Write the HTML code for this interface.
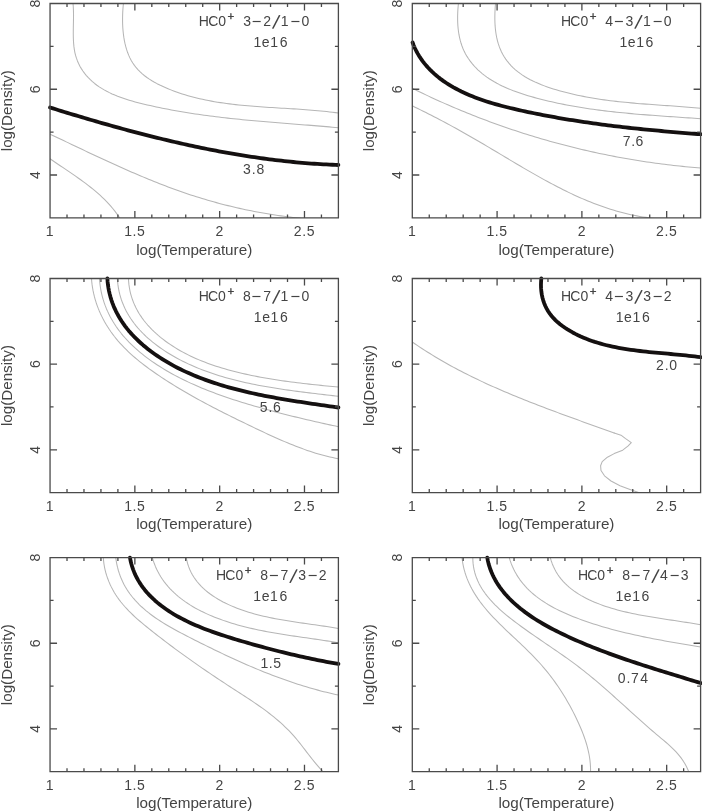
<!DOCTYPE html>
<html><head><meta charset="utf-8"><title>HCO+ line ratio contours</title>
<style>html,body{margin:0;padding:0;background:#fff;overflow:hidden}svg{display:block}</style></head>
<body><svg width="702" height="811" viewBox="0 0 702 811">
<rect width="702" height="811" fill="#fff"/>
<g font-family="Liberation Sans, sans-serif" fill="#444">
<clipPath id="c00"><rect x="50.05" y="3.5" width="288.35" height="214.4"/></clipPath>
<g clip-path="url(#c00)" fill="none" stroke-linejoin="round" stroke-linecap="round">
<path d="M73.01,3.47 L73.26,6.44 L73.41,9.45 L73.5,12.5 L73.52,15.58 L73.5,18.69 L73.45,21.82 L73.38,24.96 L73.32,28.1 L73.29,31.24 L73.28,34.37 L73.33,37.48 L73.44,40.57 L73.64,43.62 L73.94,46.64 L74.35,49.62 L74.89,52.54 L75.58,55.4 L76.43,58.19 L77.44,60.92 L78.6,63.57 L79.9,66.14 L81.34,68.63 L82.9,71.04 L84.59,73.35 L86.4,75.57 L88.31,77.7 L90.32,79.72 L92.42,81.64 L94.61,83.47 L96.89,85.21 L99.25,86.86 L101.68,88.42 L104.18,89.9 L106.75,91.31 L109.39,92.64 L112.08,93.9 L114.82,95.09 L117.61,96.22 L120.45,97.29 L123.33,98.31 L126.24,99.28 L129.18,100.2 L132.15,101.07 L135.13,101.9 L138.14,102.7 L141.16,103.47 L144.18,104.2 L147.21,104.91 L150.24,105.6 L153.27,106.27 L156.28,106.92 L159.3,107.55 L162.31,108.17 L165.31,108.77 L168.32,109.35 L171.31,109.91 L174.31,110.47 L177.3,111 L180.28,111.52 L183.27,112.02 L186.25,112.52 L189.22,112.99 L192.2,113.46 L195.17,113.91 L198.14,114.34 L201.11,114.77 L204.08,115.18 L207.04,115.58 L210,115.97 L212.96,116.35 L215.92,116.72 L218.88,117.08 L221.84,117.43 L224.8,117.77 L227.76,118.11 L230.71,118.43 L233.67,118.74 L236.62,119.05 L239.58,119.35 L242.54,119.65 L245.49,119.93 L248.45,120.21 L251.41,120.49 L254.37,120.76 L257.33,121.02 L260.3,121.28 L263.26,121.54 L266.23,121.79 L269.19,122.04 L272.16,122.28 L275.14,122.53 L278.11,122.77 L281.09,123.01 L284.07,123.25 L287.05,123.48 L290.04,123.72 L293.03,123.95 L296.02,124.19 L299.02,124.42 L302.02,124.66 L305.03,124.9 L308.04,125.14 L311.05,125.38 L314.07,125.62 L317.1,125.87 L320.12,126.12 L323.16,126.38 L326.2,126.63 L329.24,126.89 L332.29,127.16 L335.35,127.43 L338.41,127.71" stroke="#b6b6b6" stroke-width="1.05"/>
<path d="M123.43,3.49 L123.15,6.3 L122.92,9.19 L122.74,12.15 L122.62,15.18 L122.56,18.25 L122.56,21.37 L122.65,24.52 L122.8,27.68 L123.05,30.85 L123.38,34.02 L123.81,37.17 L124.33,40.29 L124.97,43.38 L125.71,46.42 L126.56,49.4 L127.54,52.31 L128.65,55.14 L129.88,57.88 L131.25,60.51 L132.77,63.03 L134.43,65.42 L136.22,67.7 L138.15,69.86 L140.19,71.91 L142.34,73.86 L144.6,75.72 L146.95,77.47 L149.38,79.14 L151.89,80.72 L154.46,82.23 L157.09,83.66 L159.78,85.02 L162.5,86.31 L165.25,87.55 L168.03,88.74 L170.83,89.87 L173.64,90.95 L176.47,91.99 L179.31,92.97 L182.17,93.92 L185.05,94.81 L187.93,95.67 L190.84,96.48 L193.75,97.26 L196.68,97.99 L199.62,98.69 L202.57,99.35 L205.53,99.98 L208.5,100.57 L211.49,101.13 L214.48,101.66 L217.48,102.16 L220.48,102.63 L223.5,103.08 L226.52,103.5 L229.55,103.89 L232.59,104.26 L235.63,104.61 L238.67,104.94 L241.72,105.25 L244.78,105.54 L247.83,105.82 L250.89,106.08 L253.96,106.33 L257.02,106.56 L260.09,106.79 L263.15,107 L266.22,107.21 L269.28,107.41 L272.35,107.6 L275.41,107.79 L278.47,107.97 L281.53,108.15 L284.58,108.34 L287.63,108.52 L290.68,108.7 L293.72,108.89 L296.75,109.09 L299.78,109.28 L302.81,109.49 L305.82,109.71 L308.83,109.93 L311.83,110.17 L314.82,110.42 L317.81,110.68 L320.78,110.96 L323.74,111.25 L326.7,111.56 L329.64,111.9 L332.57,112.25 L335.48,112.62 L338.38,113.02" stroke="#b6b6b6" stroke-width="1.05"/>
<path d="M50.07,134.17 L52.76,135.44 L55.46,136.72 L58.15,138 L60.85,139.28 L63.55,140.57 L66.25,141.85 L68.95,143.14 L71.66,144.43 L74.37,145.72 L77.08,147.01 L79.79,148.29 L82.5,149.58 L85.22,150.87 L87.94,152.15 L90.66,153.43 L93.39,154.71 L96.11,155.99 L98.84,157.26 L101.58,158.53 L104.31,159.8 L107.05,161.06 L109.79,162.32 L112.53,163.57 L115.28,164.82 L118.03,166.06 L120.78,167.29 L123.54,168.52 L126.3,169.74 L129.06,170.95 L131.82,172.15 L134.59,173.35 L137.36,174.53 L140.13,175.71 L142.91,176.88 L145.69,178.04 L148.48,179.18 L151.26,180.32 L154.05,181.45 L156.85,182.56 L159.65,183.66 L162.45,184.75 L165.25,185.83 L168.06,186.89 L170.88,187.94 L173.69,188.98 L176.51,190 L179.34,191.01 L182.17,192 L185,192.98 L187.83,193.94 L190.67,194.88 L193.52,195.81 L196.37,196.72 L199.22,197.61 L202.08,198.49 L204.94,199.35 L207.8,200.19 L210.67,201.02 L213.55,201.83 L216.43,202.62 L219.31,203.4 L222.2,204.16 L225.09,204.9 L227.98,205.63 L230.89,206.34 L233.79,207.03 L236.7,207.71 L239.62,208.37 L242.54,209.02 L245.46,209.64 L248.39,210.25 L251.33,210.85 L254.27,211.43 L257.21,211.99 L260.16,212.53 L263.12,213.06 L266.08,213.57 L269.05,214.07 L272.02,214.55 L274.99,215.01 L277.98,215.46 L280.96,215.89 L283.96,216.3 L286.95,216.7 L289.96,217.08 L292.97,217.44 L295.98,217.79 L299,218.12 L302.03,218.43" stroke="#b6b6b6" stroke-width="1.05"/>
<path d="M50.05,158.8 L52.56,160.53 L55.09,162.26 L57.63,163.99 L60.19,165.71 L62.75,167.44 L65.32,169.16 L67.89,170.9 L70.46,172.64 L73.03,174.4 L75.59,176.17 L78.13,177.95 L80.67,179.76 L83.18,181.59 L85.67,183.44 L88.14,185.32 L90.58,187.23 L92.99,189.17 L95.37,191.14 L97.71,193.16 L100.01,195.21 L102.26,197.3 L104.47,199.44 L106.62,201.63 L108.72,203.87 L110.77,206.16 L112.75,208.5 L114.67,210.91 L116.52,213.37 L118.31,215.9 L120.01,218.49" stroke="#b6b6b6" stroke-width="1.05"/>
</g>
<path d="M50.05,107.5 L52.91,108.42 L55.78,109.3 L58.65,110.19 L61.53,111.07 L64.4,111.95 L67.28,112.83 L70.15,113.7 L73.03,114.57 L75.91,115.43 L78.79,116.29 L81.68,117.15 L84.56,118.01 L87.45,118.86 L90.34,119.71 L93.23,120.55 L96.12,121.39 L99.01,122.22 L101.9,123.05 L104.8,123.87 L107.7,124.69 L110.6,125.51 L113.5,126.32 L116.4,127.13 L119.3,127.93 L122.21,128.72 L125.11,129.51 L128.02,130.3 L130.93,131.07 L133.84,131.85 L136.75,132.61 L139.67,133.37 L142.58,134.13 L145.5,134.88 L148.42,135.62 L151.34,136.36 L154.26,137.09 L157.19,137.81 L160.11,138.53 L163.04,139.24 L165.96,139.94 L168.89,140.64 L171.82,141.32 L174.76,142.01 L177.69,142.68 L180.63,143.35 L183.56,144 L186.5,144.65 L189.44,145.3 L192.38,145.93 L195.33,146.56 L198.27,147.18 L201.22,147.79 L204.17,148.39 L207.12,148.99 L210.07,149.57 L213.02,150.15 L215.97,150.71 L218.93,151.27 L221.88,151.82 L224.84,152.36 L227.8,152.89 L230.77,153.42 L233.73,153.93 L236.69,154.43 L239.66,154.92 L242.63,155.41 L245.6,155.88 L248.57,156.34 L251.54,156.79 L254.51,157.24 L257.49,157.67 L260.47,158.09 L263.44,158.5 L266.42,158.9 L269.41,159.29 L272.39,159.67 L275.37,160.03 L278.36,160.39 L281.35,160.73 L284.34,161.07 L287.33,161.39 L290.32,161.7 L293.31,161.99 L296.31,162.28 L299.31,162.55 L302.3,162.82 L305.3,163.07 L308.31,163.3 L311.31,163.53 L314.31,163.74 L317.32,163.94 L320.33,164.13 L323.34,164.3 L326.35,164.46 L329.36,164.61 L332.37,164.75 L335.39,164.87 L338.4,165" fill="none" stroke="#141010" stroke-width="3.8" stroke-linejoin="round" stroke-linecap="round"/>
<path d="M50.05,3.5 H338.4 V217.9 H50.05 Z M67.01,217.9 v-3.5 M67.01,3.5 v3.5 M83.97,217.9 v-3.5 M83.97,3.5 v3.5 M100.94,217.9 v-3.5 M100.94,3.5 v3.5 M117.9,217.9 v-3.5 M117.9,3.5 v3.5 M134.86,217.9 v-7 M134.86,3.5 v7 M151.82,217.9 v-3.5 M151.82,3.5 v3.5 M168.78,217.9 v-3.5 M168.78,3.5 v3.5 M185.74,217.9 v-3.5 M185.74,3.5 v3.5 M202.71,217.9 v-3.5 M202.71,3.5 v3.5 M219.67,217.9 v-7 M219.67,3.5 v7 M236.63,217.9 v-3.5 M236.63,3.5 v3.5 M253.59,217.9 v-3.5 M253.59,3.5 v3.5 M270.55,217.9 v-3.5 M270.55,3.5 v3.5 M287.51,217.9 v-3.5 M287.51,3.5 v3.5 M304.48,217.9 v-7 M304.48,3.5 v7 M321.44,217.9 v-3.5 M321.44,3.5 v3.5 M50.05,175.02 h7 M338.4,175.02 h-7 M50.05,132.14 h3.5 M338.4,132.14 h-3.5 M50.05,89.26 h7 M338.4,89.26 h-7 M50.05,46.38 h3.5 M338.4,46.38 h-3.5" fill="none" stroke="#4a4a4a" stroke-width="1.3"/>
<text x="50.05" y="235.9" font-size="14" text-anchor="middle" letter-spacing="0.6">1</text>
<text x="134.86" y="235.9" font-size="14" text-anchor="middle" letter-spacing="0.6">1.5</text>
<text x="219.67" y="235.9" font-size="14" text-anchor="middle" letter-spacing="0.6">2</text>
<text x="304.48" y="235.9" font-size="14" text-anchor="middle" letter-spacing="0.6">2.5</text>
<text x="194.22" y="254.6" font-size="14.2" text-anchor="middle" textLength="116" lengthAdjust="spacingAndGlyphs">log(Temperature)</text>
<text transform="translate(39.85,175.02) rotate(-90)" font-size="14" text-anchor="middle">4</text>
<text transform="translate(39.85,89.26) rotate(-90)" font-size="14" text-anchor="middle">6</text>
<text transform="translate(39.85,3.5) rotate(-90)" font-size="14" text-anchor="middle">8</text>
<text transform="translate(11.65,110.7) rotate(-90)" font-size="14.2" text-anchor="middle" textLength="81" lengthAdjust="spacingAndGlyphs">log(Density)</text>
<text x="198.84 208.16 218.26" y="25.6" font-size="14">HC0<tspan x="227.54" y="19.85" font-size="11.5" stroke="#444" stroke-width="0.35">+</tspan><tspan x="239.25 243.15" y="25.6"> 3</tspan><tspan x="251.73" y="27" font-size="16.5">−</tspan><tspan x="263.36" y="25.6">2</tspan><tspan x="272.1" y="28.35" font-size="20" rotate="12">/</tspan><tspan x="280.77" y="25.6">1</tspan><tspan x="290.58" y="27" font-size="16.5">−</tspan><tspan x="301.56" y="25.6">0</tspan></text>
<text x="253.47 261.87 270.32 279.66" y="47" font-size="14" >1e16</text>
<text x="242.9 251.66 256.56" y="173.9" font-size="14" >3.8</text>
<clipPath id="c10"><rect x="412.3" y="3.5" width="288.3" height="214.4"/></clipPath>
<g clip-path="url(#c10)" fill="none" stroke-linejoin="round" stroke-linecap="round">
<path d="M458.42,3.46 L458.11,6.72 L457.87,9.96 L457.71,13.17 L457.62,16.35 L457.62,19.51 L457.7,22.63 L457.88,25.71 L458.15,28.75 L458.52,31.75 L458.99,34.71 L459.57,37.62 L460.26,40.48 L461.06,43.28 L461.99,46.03 L463.04,48.72 L464.22,51.35 L465.53,53.91 L466.97,56.4 L468.53,58.82 L470.2,61.17 L471.98,63.44 L473.86,65.63 L475.82,67.74 L477.87,69.77 L480,71.72 L482.21,73.58 L484.49,75.37 L486.84,77.09 L489.25,78.74 L491.73,80.31 L494.27,81.82 L496.86,83.27 L499.5,84.66 L502.19,85.98 L504.93,87.25 L507.7,88.47 L510.52,89.63 L513.36,90.75 L516.24,91.81 L519.14,92.84 L522.06,93.82 L525.01,94.76 L527.97,95.67 L530.94,96.54 L533.91,97.37 L536.9,98.18 L539.88,98.96 L542.86,99.72 L545.84,100.45 L548.81,101.16 L551.79,101.85 L554.75,102.51 L557.72,103.15 L560.69,103.77 L563.65,104.37 L566.61,104.95 L569.57,105.51 L572.53,106.05 L575.49,106.57 L578.44,107.08 L581.4,107.56 L584.35,108.03 L587.31,108.48 L590.26,108.92 L593.21,109.34 L596.16,109.74 L599.11,110.14 L602.07,110.51 L605.02,110.88 L607.97,111.23 L610.92,111.57 L613.88,111.89 L616.83,112.21 L619.79,112.52 L622.75,112.81 L625.71,113.1 L628.67,113.37 L631.63,113.64 L634.59,113.9 L637.56,114.16 L640.53,114.4 L643.5,114.64 L646.47,114.88 L649.45,115.11 L652.43,115.33 L655.41,115.55 L658.39,115.77 L661.38,115.98 L664.37,116.19 L667.37,116.4 L670.37,116.61 L673.37,116.82 L676.38,117.03 L679.39,117.23 L682.41,117.44 L685.43,117.65 L688.46,117.86 L691.49,118.07 L694.52,118.29 L697.56,118.51 L700.61,118.73" stroke="#b6b6b6" stroke-width="1.05"/>
<path d="M495.51,3.47 L495.25,6.75 L495.05,10.02 L494.91,13.26 L494.85,16.47 L494.86,19.65 L494.95,22.81 L495.12,25.92 L495.39,28.99 L495.75,32.02 L496.22,35 L496.79,37.93 L497.47,40.81 L498.27,43.63 L499.19,46.39 L500.23,49.08 L501.41,51.7 L502.72,54.25 L504.17,56.73 L505.75,59.12 L507.46,61.44 L509.28,63.67 L511.23,65.8 L513.28,67.85 L515.44,69.8 L517.69,71.66 L520.04,73.42 L522.48,75.11 L525,76.71 L527.59,78.23 L530.25,79.67 L532.97,81.04 L535.75,82.35 L538.58,83.58 L541.45,84.76 L544.36,85.87 L547.31,86.93 L550.28,87.94 L553.27,88.9 L556.27,89.81 L559.28,90.68 L562.3,91.51 L565.31,92.31 L568.32,93.06 L571.33,93.79 L574.33,94.48 L577.33,95.14 L580.32,95.78 L583.32,96.38 L586.31,96.95 L589.3,97.5 L592.29,98.02 L595.27,98.51 L598.26,98.98 L601.24,99.43 L604.23,99.86 L607.21,100.26 L610.19,100.65 L613.17,101.01 L616.15,101.36 L619.14,101.69 L622.12,102.01 L625.1,102.31 L628.09,102.6 L631.07,102.88 L634.06,103.14 L637.05,103.4 L640.04,103.65 L643.03,103.88 L646.03,104.12 L649.03,104.34 L652.03,104.56 L655.03,104.78 L658.04,104.99 L661.05,105.21 L664.06,105.42 L667.08,105.63 L670.1,105.85 L673.13,106.07 L676.16,106.29 L679.2,106.51 L682.24,106.75 L685.29,106.98 L688.34,107.23 L691.4,107.49 L694.46,107.76 L697.53,108.03 L700.61,108.32" stroke="#b6b6b6" stroke-width="1.05"/>
<path d="M412.3,88.29 L415,89.62 L417.7,90.95 L420.4,92.26 L423.11,93.56 L425.83,94.85 L428.55,96.14 L431.28,97.41 L434.01,98.67 L436.74,99.92 L439.48,101.16 L442.23,102.39 L444.98,103.61 L447.73,104.81 L450.49,106.01 L453.26,107.2 L456.02,108.38 L458.8,109.54 L461.57,110.7 L464.36,111.84 L467.14,112.98 L469.93,114.1 L472.73,115.21 L475.53,116.31 L478.33,117.4 L481.14,118.48 L483.95,119.55 L486.77,120.61 L489.59,121.66 L492.41,122.7 L495.24,123.73 L498.08,124.74 L500.91,125.75 L503.75,126.74 L506.6,127.72 L509.44,128.7 L512.3,129.66 L515.15,130.61 L518.01,131.55 L520.87,132.48 L523.74,133.4 L526.61,134.3 L529.48,135.2 L532.36,136.09 L535.24,136.96 L538.12,137.82 L541.01,138.68 L543.9,139.52 L546.79,140.35 L549.69,141.17 L552.59,141.97 L555.49,142.77 L558.39,143.56 L561.3,144.33 L564.21,145.1 L567.13,145.85 L570.05,146.59 L572.97,147.32 L575.89,148.04 L578.81,148.75 L581.74,149.44 L584.67,150.13 L587.61,150.8 L590.54,151.47 L593.48,152.12 L596.42,152.76 L599.37,153.39 L602.31,154.01 L605.26,154.61 L608.21,155.21 L611.17,155.79 L614.12,156.36 L617.08,156.93 L620.04,157.48 L623,158.01 L625.96,158.54 L628.93,159.06 L631.9,159.56 L634.87,160.05 L637.84,160.54 L640.81,161.01 L643.79,161.46 L646.77,161.91 L649.74,162.35 L652.72,162.77 L655.71,163.18 L658.69,163.58 L661.67,163.97 L664.66,164.35 L667.65,164.72 L670.64,165.07 L673.63,165.41 L676.62,165.75 L679.62,166.07 L682.61,166.37 L685.61,166.67 L688.6,166.95 L691.6,167.23 L694.6,167.49 L697.6,167.74 L700.6,167.98" stroke="#b6b6b6" stroke-width="1.05"/>
<path d="M412.29,105.83 L415.03,107.16 L417.77,108.5 L420.5,109.85 L423.22,111.2 L425.93,112.56 L428.63,113.93 L431.33,115.3 L434.02,116.69 L436.7,118.08 L439.38,119.48 L442.05,120.88 L444.71,122.3 L447.37,123.72 L450.03,125.15 L452.67,126.59 L455.32,128.04 L457.96,129.5 L460.59,130.97 L463.22,132.44 L465.85,133.92 L468.47,135.42 L471.09,136.92 L473.71,138.43 L476.33,139.95 L478.94,141.47 L481.55,143.01 L484.16,144.54 L486.77,146.09 L489.38,147.64 L491.98,149.19 L494.59,150.75 L497.2,152.3 L499.8,153.86 L502.41,155.42 L505.02,156.98 L507.63,158.54 L510.24,160.1 L512.85,161.66 L515.46,163.21 L518.08,164.75 L520.7,166.3 L523.32,167.84 L525.94,169.37 L528.57,170.89 L531.2,172.41 L533.83,173.91 L536.47,175.41 L539.12,176.9 L541.77,178.38 L544.42,179.84 L547.08,181.29 L549.74,182.73 L552.41,184.15 L555.09,185.56 L557.78,186.96 L560.47,188.33 L563.16,189.69 L565.87,191.03 L568.58,192.35 L571.3,193.65 L574.03,194.92 L576.77,196.18 L579.52,197.41 L582.27,198.62 L585.04,199.8 L587.81,200.96 L590.6,202.09 L593.4,203.19 L596.2,204.27 L599.02,205.31 L601.85,206.33 L604.69,207.32 L607.54,208.27 L610.4,209.19 L613.28,210.08 L616.17,210.93 L619.07,211.75 L621.99,212.53 L624.92,213.27 L627.86,213.98 L630.82,214.65 L633.79,215.28 L636.78,215.87 L639.78,216.41 L642.79,216.92 L645.83,217.38 L648.87,217.8 L651.94,218.17 L655.02,218.5" stroke="#b6b6b6" stroke-width="1.05"/>
</g>
<path d="M412.6,42.5 L413.68,45.45 L414.94,48.26 L416.29,50.98 L417.74,53.61 L419.27,56.17 L420.89,58.65 L422.6,61.05 L424.38,63.37 L426.25,65.62 L428.18,67.79 L430.19,69.9 L432.27,71.93 L434.41,73.89 L436.61,75.79 L438.87,77.63 L441.19,79.4 L443.56,81.11 L445.98,82.76 L448.45,84.35 L450.96,85.89 L453.51,87.37 L456.1,88.79 L458.73,90.17 L461.38,91.5 L464.07,92.77 L466.79,94 L469.54,95.19 L472.32,96.33 L475.12,97.43 L477.94,98.5 L480.79,99.52 L483.66,100.5 L486.54,101.46 L489.45,102.37 L492.37,103.26 L495.3,104.12 L498.25,104.94 L501.21,105.75 L504.18,106.52 L507.15,107.27 L510.13,108.01 L513.12,108.72 L516.11,109.41 L519.1,110.08 L522.09,110.75 L525.08,111.39 L528.07,112.03 L531.05,112.65 L534.03,113.26 L537.01,113.86 L539.98,114.45 L542.95,115.03 L545.92,115.6 L548.89,116.15 L551.85,116.7 L554.82,117.24 L557.78,117.76 L560.74,118.28 L563.7,118.78 L566.65,119.28 L569.61,119.76 L572.56,120.24 L575.51,120.71 L578.47,121.17 L581.42,121.62 L584.37,122.06 L587.32,122.49 L590.27,122.91 L593.22,123.33 L596.17,123.74 L599.12,124.14 L602.07,124.53 L605.03,124.91 L607.98,125.29 L610.93,125.66 L613.88,126.02 L616.84,126.38 L619.8,126.73 L622.75,127.07 L625.71,127.41 L628.67,127.74 L631.64,128.06 L634.6,128.38 L637.57,128.69 L640.54,129 L643.51,129.3 L646.48,129.6 L649.46,129.89 L652.44,130.17 L655.42,130.45 L658.4,130.73 L661.39,131 L664.39,131.27 L667.38,131.54 L670.38,131.8 L673.38,132.05 L676.39,132.3 L679.4,132.55 L682.42,132.8 L685.44,133.04 L688.46,133.28 L691.49,133.52 L694.53,133.75 L697.57,133.99 L700.6,134.2" fill="none" stroke="#141010" stroke-width="3.8" stroke-linejoin="round" stroke-linecap="round"/>
<path d="M412.3,3.5 H700.6 V217.9 H412.3 Z M429.26,217.9 v-3.5 M429.26,3.5 v3.5 M446.22,217.9 v-3.5 M446.22,3.5 v3.5 M463.18,217.9 v-3.5 M463.18,3.5 v3.5 M480.14,217.9 v-3.5 M480.14,3.5 v3.5 M497.09,217.9 v-7 M497.09,3.5 v7 M514.05,217.9 v-3.5 M514.05,3.5 v3.5 M531.01,217.9 v-3.5 M531.01,3.5 v3.5 M547.97,217.9 v-3.5 M547.97,3.5 v3.5 M564.93,217.9 v-3.5 M564.93,3.5 v3.5 M581.89,217.9 v-7 M581.89,3.5 v7 M598.85,217.9 v-3.5 M598.85,3.5 v3.5 M615.81,217.9 v-3.5 M615.81,3.5 v3.5 M632.76,217.9 v-3.5 M632.76,3.5 v3.5 M649.72,217.9 v-3.5 M649.72,3.5 v3.5 M666.68,217.9 v-7 M666.68,3.5 v7 M683.64,217.9 v-3.5 M683.64,3.5 v3.5 M412.3,175.02 h7 M700.6,175.02 h-7 M412.3,132.14 h3.5 M700.6,132.14 h-3.5 M412.3,89.26 h7 M700.6,89.26 h-7 M412.3,46.38 h3.5 M700.6,46.38 h-3.5" fill="none" stroke="#4a4a4a" stroke-width="1.3"/>
<text x="412.3" y="235.9" font-size="14" text-anchor="middle" letter-spacing="0.6">1</text>
<text x="497.09" y="235.9" font-size="14" text-anchor="middle" letter-spacing="0.6">1.5</text>
<text x="581.89" y="235.9" font-size="14" text-anchor="middle" letter-spacing="0.6">2</text>
<text x="666.68" y="235.9" font-size="14" text-anchor="middle" letter-spacing="0.6">2.5</text>
<text x="556.45" y="254.6" font-size="14.2" text-anchor="middle" textLength="116" lengthAdjust="spacingAndGlyphs">log(Temperature)</text>
<text transform="translate(402.1,175.02) rotate(-90)" font-size="14" text-anchor="middle">4</text>
<text transform="translate(402.1,89.26) rotate(-90)" font-size="14" text-anchor="middle">6</text>
<text transform="translate(402.1,3.5) rotate(-90)" font-size="14" text-anchor="middle">8</text>
<text transform="translate(373.9,110.7) rotate(-90)" font-size="14.2" text-anchor="middle" textLength="81" lengthAdjust="spacingAndGlyphs">log(Density)</text>
<text x="561.04 570.36 580.46" y="25.6" font-size="14">HC0<tspan x="589.74" y="19.85" font-size="11.5" stroke="#444" stroke-width="0.35">+</tspan><tspan x="601.45 605.35" y="25.6"> 4</tspan><tspan x="613.93" y="27" font-size="16.5">−</tspan><tspan x="625.6" y="25.6">3</tspan><tspan x="634.3" y="28.35" font-size="20" rotate="12">/</tspan><tspan x="642.97" y="25.6">1</tspan><tspan x="652.78" y="27" font-size="16.5">−</tspan><tspan x="663.76" y="25.6">0</tspan></text>
<text x="619.42 627.82 636.27 645.61" y="47" font-size="14" >1e16</text>
<text x="622.85 631.21 635.61" y="146" font-size="14" >7.6</text>
<clipPath id="c01"><rect x="50.05" y="278.5" width="288.35" height="214.1"/></clipPath>
<g clip-path="url(#c01)" fill="none" stroke-linejoin="round" stroke-linecap="round">
<path d="M91.48,278.47 L91.73,281.57 L92.08,284.65 L92.53,287.69 L93.06,290.71 L93.69,293.69 L94.41,296.65 L95.22,299.57 L96.11,302.46 L97.08,305.32 L98.14,308.13 L99.27,310.92 L100.48,313.66 L101.76,316.37 L103.12,319.03 L104.55,321.66 L106.04,324.24 L107.6,326.78 L109.22,329.28 L110.9,331.73 L112.64,334.14 L114.44,336.49 L116.3,338.8 L118.2,341.07 L120.16,343.29 L122.16,345.47 L124.21,347.61 L126.31,349.71 L128.45,351.77 L130.62,353.79 L132.83,355.78 L135.08,357.73 L137.36,359.65 L139.67,361.54 L142.02,363.4 L144.38,365.22 L146.77,367.03 L149.19,368.8 L151.62,370.55 L154.07,372.28 L156.54,373.98 L159.02,375.67 L161.51,377.33 L164.01,378.98 L166.52,380.61 L169.05,382.22 L171.58,383.81 L174.12,385.39 L176.67,386.95 L179.23,388.5 L181.79,390.03 L184.37,391.55 L186.96,393.05 L189.55,394.54 L192.15,396.02 L194.77,397.48 L197.38,398.94 L200.01,400.38 L202.65,401.81 L205.29,403.23 L207.94,404.64 L210.6,406.04 L213.26,407.44 L215.94,408.82 L218.62,410.2 L221.3,411.57 L224,412.93 L226.7,414.29 L229.4,415.64 L232.11,416.98 L234.83,418.32 L237.56,419.66 L240.29,420.99 L243.02,422.32 L245.76,423.65 L248.51,424.98 L251.26,426.3 L254.02,427.62 L256.78,428.94 L259.55,430.26 L262.32,431.57 L265.09,432.87 L267.87,434.16 L270.66,435.44 L273.45,436.71 L276.24,437.97 L279.03,439.21 L281.83,440.43 L284.64,441.63 L287.44,442.81 L290.25,443.98 L293.07,445.11 L295.88,446.22 L298.7,447.31 L301.52,448.36 L304.34,449.38 L307.17,450.38 L310,451.34 L312.82,452.26 L315.66,453.14 L318.49,453.99 L321.32,454.8 L324.16,455.56 L327,456.28 L329.83,456.96 L332.67,457.59 L335.51,458.17 L338.35,458.7" stroke="#b6b6b6" stroke-width="1.05"/>
<path d="M99.46,278.45 L99.71,281.67 L100.06,284.85 L100.52,287.97 L101.07,291.04 L101.72,294.06 L102.46,297.03 L103.29,299.96 L104.21,302.83 L105.22,305.65 L106.31,308.43 L107.48,311.15 L108.74,313.83 L110.07,316.46 L111.48,319.05 L112.96,321.58 L114.51,324.07 L116.12,326.51 L117.81,328.9 L119.56,331.25 L121.37,333.55 L123.24,335.81 L125.17,338.02 L127.15,340.19 L129.18,342.31 L131.27,344.4 L133.4,346.44 L135.58,348.44 L137.81,350.4 L140.07,352.32 L142.38,354.2 L144.72,356.04 L147.09,357.84 L149.5,359.61 L151.94,361.34 L154.41,363.03 L156.9,364.69 L159.42,366.31 L161.95,367.91 L164.51,369.46 L167.09,370.99 L169.68,372.48 L172.3,373.94 L174.93,375.38 L177.59,376.78 L180.25,378.15 L182.94,379.5 L185.64,380.81 L188.36,382.1 L191.09,383.37 L193.84,384.6 L196.6,385.82 L199.38,387.01 L202.17,388.17 L204.97,389.32 L207.78,390.44 L210.61,391.54 L213.44,392.61 L216.29,393.67 L219.14,394.71 L222.01,395.73 L224.88,396.73 L227.77,397.72 L230.66,398.69 L233.55,399.64 L236.46,400.58 L239.37,401.5 L242.29,402.41 L245.21,403.3 L248.14,404.18 L251.07,405.05 L254,405.91 L256.94,406.76 L259.88,407.6 L262.82,408.43 L265.77,409.24 L268.71,410.05 L271.66,410.85 L274.6,411.63 L277.55,412.41 L280.49,413.18 L283.44,413.93 L286.38,414.68 L289.31,415.42 L292.25,416.15 L295.18,416.87 L298.11,417.58 L301.03,418.28 L303.95,418.98 L306.86,419.67 L309.76,420.34 L312.66,421.01 L315.55,421.68 L318.43,422.33 L321.31,422.98 L324.17,423.62 L327.03,424.25 L329.87,424.88 L332.71,425.5 L335.54,426.11 L338.35,426.71" stroke="#b6b6b6" stroke-width="1.05"/>
<path d="M117.37,278.44 L117.6,281.72 L117.96,284.92 L118.44,288.06 L119.03,291.14 L119.74,294.15 L120.56,297.1 L121.48,299.98 L122.51,302.81 L123.64,305.57 L124.87,308.27 L126.19,310.92 L127.6,313.5 L129.1,316.03 L130.68,318.5 L132.34,320.91 L134.08,323.27 L135.89,325.57 L137.78,327.82 L139.73,330.01 L141.74,332.16 L143.82,334.25 L145.95,336.29 L148.14,338.27 L150.38,340.21 L152.66,342.1 L154.99,343.94 L157.36,345.74 L159.77,347.49 L162.21,349.19 L164.69,350.85 L167.19,352.46 L169.72,354.03 L172.28,355.55 L174.86,357.04 L177.48,358.48 L180.11,359.88 L182.77,361.24 L185.46,362.57 L188.17,363.85 L190.89,365.1 L193.65,366.31 L196.42,367.48 L199.21,368.62 L202.02,369.73 L204.85,370.8 L207.69,371.84 L210.55,372.84 L213.43,373.82 L216.33,374.76 L219.23,375.67 L222.16,376.56 L225.09,377.41 L228.04,378.24 L230.99,379.04 L233.96,379.82 L236.94,380.56 L239.92,381.29 L242.92,381.99 L245.92,382.67 L248.93,383.32 L251.94,383.96 L254.96,384.57 L257.98,385.16 L261.01,385.73 L264.04,386.29 L267.07,386.83 L270.1,387.34 L273.13,387.85 L276.17,388.34 L279.2,388.81 L282.23,389.27 L285.25,389.71 L288.27,390.14 L291.29,390.56 L294.3,390.97 L297.31,391.37 L300.31,391.76 L303.3,392.14 L306.29,392.52 L309.26,392.88 L312.23,393.24 L315.19,393.6 L318.13,393.94 L321.06,394.29 L323.98,394.63 L326.89,394.97 L329.78,395.3 L332.65,395.64 L335.51,395.97 L338.35,396.31" stroke="#b6b6b6" stroke-width="1.05"/>
<path d="M128.46,278.46 L128.65,281.7 L128.97,284.88 L129.43,287.99 L130.01,291.04 L130.73,294.02 L131.57,296.95 L132.52,299.81 L133.59,302.6 L134.77,305.34 L136.06,308.01 L137.44,310.63 L138.93,313.18 L140.51,315.67 L142.18,318.1 L143.93,320.47 L145.76,322.78 L147.67,325.03 L149.66,327.22 L151.71,329.36 L153.83,331.44 L156.01,333.45 L158.25,335.42 L160.53,337.33 L162.87,339.18 L165.25,340.98 L167.67,342.73 L170.13,344.42 L172.61,346.06 L175.13,347.65 L177.68,349.19 L180.26,350.68 L182.87,352.13 L185.5,353.53 L188.16,354.88 L190.85,356.19 L193.56,357.45 L196.29,358.68 L199.05,359.86 L201.83,361 L204.63,362.11 L207.45,363.17 L210.29,364.2 L213.15,365.2 L216.03,366.16 L218.92,367.09 L221.83,367.98 L224.75,368.85 L227.69,369.68 L230.64,370.49 L233.61,371.27 L236.58,372.02 L239.57,372.74 L242.57,373.45 L245.57,374.13 L248.59,374.78 L251.61,375.42 L254.63,376.03 L257.66,376.62 L260.7,377.2 L263.74,377.75 L266.78,378.28 L269.83,378.8 L272.87,379.3 L275.92,379.78 L278.97,380.24 L282.01,380.69 L285.05,381.13 L288.09,381.54 L291.12,381.95 L294.15,382.34 L297.17,382.72 L300.19,383.09 L303.19,383.44 L306.19,383.78 L309.18,384.12 L312.16,384.44 L315.13,384.76 L318.08,385.06 L321.03,385.36 L323.96,385.65 L326.87,385.93 L329.77,386.21 L332.65,386.48 L335.51,386.75 L338.36,387.01" stroke="#b6b6b6" stroke-width="1.05"/>
</g>
<path d="M107.4,278.5 L107.6,281.69 L107.97,284.89 L108.45,288.03 L109.03,291.11 L109.72,294.13 L110.51,297.1 L111.4,300.01 L112.38,302.86 L113.46,305.65 L114.62,308.39 L115.87,311.07 L117.21,313.7 L118.63,316.28 L120.12,318.8 L121.69,321.27 L123.34,323.69 L125.05,326.05 L126.83,328.37 L128.68,330.64 L130.59,332.86 L132.56,335.03 L134.58,337.15 L136.66,339.22 L138.79,341.25 L140.97,343.24 L143.19,345.18 L145.46,347.07 L147.77,348.92 L150.11,350.73 L152.49,352.49 L154.9,354.21 L157.34,355.89 L159.81,357.53 L162.3,359.14 L164.83,360.7 L167.38,362.22 L169.95,363.71 L172.55,365.15 L175.18,366.57 L177.83,367.94 L180.5,369.28 L183.19,370.59 L185.91,371.86 L188.64,373.1 L191.4,374.31 L194.17,375.48 L196.97,376.62 L199.78,377.74 L202.6,378.82 L205.45,379.87 L208.31,380.89 L211.18,381.89 L214.07,382.86 L216.97,383.8 L219.88,384.72 L222.81,385.61 L225.74,386.47 L228.69,387.31 L231.65,388.13 L234.61,388.93 L237.59,389.7 L240.57,390.45 L243.56,391.18 L246.55,391.9 L249.55,392.59 L252.55,393.26 L255.56,393.91 L258.57,394.55 L261.58,395.17 L264.6,395.77 L267.61,396.36 L270.63,396.94 L273.64,397.49 L276.66,398.04 L279.67,398.57 L282.68,399.09 L285.68,399.6 L288.68,400.1 L291.68,400.58 L294.67,401.06 L297.65,401.53 L300.63,401.99 L303.6,402.44 L306.56,402.89 L309.51,403.33 L312.45,403.76 L315.38,404.19 L318.3,404.61 L321.21,405.03 L324.1,405.45 L326.98,405.86 L329.85,406.27 L332.7,406.69 L335.53,407.1 L338.4,407.5" fill="none" stroke="#141010" stroke-width="3.8" stroke-linejoin="round" stroke-linecap="round"/>
<path d="M50.05,278.5 H338.4 V492.6 H50.05 Z M67.01,492.6 v-3.5 M67.01,278.5 v3.5 M83.97,492.6 v-3.5 M83.97,278.5 v3.5 M100.94,492.6 v-3.5 M100.94,278.5 v3.5 M117.9,492.6 v-3.5 M117.9,278.5 v3.5 M134.86,492.6 v-7 M134.86,278.5 v7 M151.82,492.6 v-3.5 M151.82,278.5 v3.5 M168.78,492.6 v-3.5 M168.78,278.5 v3.5 M185.74,492.6 v-3.5 M185.74,278.5 v3.5 M202.71,492.6 v-3.5 M202.71,278.5 v3.5 M219.67,492.6 v-7 M219.67,278.5 v7 M236.63,492.6 v-3.5 M236.63,278.5 v3.5 M253.59,492.6 v-3.5 M253.59,278.5 v3.5 M270.55,492.6 v-3.5 M270.55,278.5 v3.5 M287.51,492.6 v-3.5 M287.51,278.5 v3.5 M304.48,492.6 v-7 M304.48,278.5 v7 M321.44,492.6 v-3.5 M321.44,278.5 v3.5 M50.05,449.78 h7 M338.4,449.78 h-7 M50.05,406.96 h3.5 M338.4,406.96 h-3.5 M50.05,364.14 h7 M338.4,364.14 h-7 M50.05,321.32 h3.5 M338.4,321.32 h-3.5" fill="none" stroke="#4a4a4a" stroke-width="1.3"/>
<text x="50.05" y="510.6" font-size="14" text-anchor="middle" letter-spacing="0.6">1</text>
<text x="134.86" y="510.6" font-size="14" text-anchor="middle" letter-spacing="0.6">1.5</text>
<text x="219.67" y="510.6" font-size="14" text-anchor="middle" letter-spacing="0.6">2</text>
<text x="304.48" y="510.6" font-size="14" text-anchor="middle" letter-spacing="0.6">2.5</text>
<text x="194.22" y="529.3" font-size="14.2" text-anchor="middle" textLength="116" lengthAdjust="spacingAndGlyphs">log(Temperature)</text>
<text transform="translate(39.85,449.78) rotate(-90)" font-size="14" text-anchor="middle">4</text>
<text transform="translate(39.85,364.14) rotate(-90)" font-size="14" text-anchor="middle">6</text>
<text transform="translate(39.85,278.5) rotate(-90)" font-size="14" text-anchor="middle">8</text>
<text transform="translate(11.65,385.55) rotate(-90)" font-size="14.2" text-anchor="middle" textLength="81" lengthAdjust="spacingAndGlyphs">log(Density)</text>
<text x="198.69 208.01 218.11" y="300.6" font-size="14">HC0<tspan x="227.39" y="294.85" font-size="11.5" stroke="#444" stroke-width="0.35">+</tspan><tspan x="239.06 242.96" y="300.6"> 8</tspan><tspan x="251.58" y="302" font-size="16.5">−</tspan><tspan x="263.2" y="300.6">7</tspan><tspan x="271.95" y="303.35" font-size="20" rotate="12">/</tspan><tspan x="280.62" y="300.6">1</tspan><tspan x="290.43" y="302" font-size="16.5">−</tspan><tspan x="301.41" y="300.6">0</tspan></text>
<text x="253.77 262.17 270.62 279.96" y="322" font-size="14" >1e16</text>
<text x="259.87 268.46 273.11" y="411.9" font-size="14" >5.6</text>
<clipPath id="c11"><rect x="412.3" y="278.5" width="288.3" height="214.1"/></clipPath>
<g clip-path="url(#c11)" fill="none" stroke-linejoin="round" stroke-linecap="round">
<path d="M412.29,342.01 L414.78,343.72 L417.27,345.41 L419.77,347.08 L422.29,348.73 L424.81,350.37 L427.35,351.98 L429.9,353.57 L432.45,355.15 L435.02,356.7 L437.6,358.24 L440.18,359.76 L442.78,361.26 L445.39,362.75 L448,364.21 L450.62,365.67 L453.25,367.1 L455.89,368.52 L458.54,369.92 L461.2,371.31 L463.86,372.68 L466.54,374.04 L469.22,375.38 L471.9,376.71 L474.6,378.03 L477.3,379.33 L480.01,380.62 L482.72,381.9 L485.44,383.16 L488.17,384.41 L490.9,385.65 L493.64,386.88 L496.39,388.09 L499.14,389.3 L501.89,390.49 L504.65,391.68 L507.42,392.85 L510.19,394.01 L512.96,395.17 L515.74,396.31 L518.52,397.45 L521.31,398.58 L524.1,399.7 L526.89,400.81 L529.69,401.92 L532.49,403.01 L535.29,404.1 L538.1,405.19 L540.91,406.27 L543.72,407.34 L546.53,408.4 L549.35,409.46 L552.16,410.52 L554.98,411.57 L557.8,412.62 L560.62,413.66 L563.44,414.7 L566.27,415.73 L569.09,416.76 L571.91,417.79 L574.74,418.82 L577.56,419.84 L580.39,420.87 L583.21,421.89 L586.03,422.91 L588.86,423.93 L591.68,424.94 L594.5,425.96 L597.32,426.98 L600.13,428 L602.95,429.02 L605.77,430.03 L608.58,431.06 L611.39,432.08 L614.2,433.1" stroke="#b6b6b6" stroke-width="1.05"/>
<path d="M614.2,433.1 L621,435.2 L625.6,438.6 L631.3,442.6 L627.9,446.2 L622.7,450.2 L614.2,453.6 L607.4,457.2 L602.2,461.6 L600.6,465.8 L601,470.5 L604.5,475.8 L611,481 L620,485.8 L630,489.5 L640,493" stroke="#b6b6b6" stroke-width="1.05"/>
</g>
<path d="M541.3,278.5 L541.07,281.72 L540.97,284.96 L541.06,288.15 L541.33,291.29 L541.77,294.38 L542.4,297.41 L543.2,300.35 L544.18,303.22 L545.33,305.98 L546.65,308.65 L548.13,311.21 L549.79,313.64 L551.59,315.97 L553.53,318.19 L555.6,320.3 L557.79,322.3 L560.08,324.22 L562.47,326.03 L564.93,327.76 L567.46,329.41 L570.04,330.97 L572.67,332.46 L575.33,333.87 L578.03,335.21 L580.76,336.49 L583.52,337.69 L586.3,338.83 L589.12,339.91 L591.97,340.93 L594.84,341.9 L597.73,342.8 L600.65,343.66 L603.58,344.46 L606.54,345.22 L609.52,345.93 L612.51,346.59 L615.52,347.22 L618.54,347.8 L621.58,348.35 L624.63,348.87 L627.68,349.35 L630.75,349.8 L633.83,350.23 L636.91,350.63 L639.99,351 L643.08,351.36 L646.17,351.7 L649.26,352.02 L652.35,352.32 L655.44,352.62 L658.53,352.91 L661.61,353.19 L664.68,353.46 L667.75,353.73 L670.8,354.01 L673.85,354.28 L676.89,354.56 L679.91,354.85 L682.91,355.14 L685.91,355.45 L688.88,355.77 L691.84,356.1 L694.77,356.46 L697.68,356.83 L700.6,357.2" fill="none" stroke="#141010" stroke-width="3.8" stroke-linejoin="round" stroke-linecap="round"/>
<path d="M412.3,278.5 H700.6 V492.6 H412.3 Z M429.26,492.6 v-3.5 M429.26,278.5 v3.5 M446.22,492.6 v-3.5 M446.22,278.5 v3.5 M463.18,492.6 v-3.5 M463.18,278.5 v3.5 M480.14,492.6 v-3.5 M480.14,278.5 v3.5 M497.09,492.6 v-7 M497.09,278.5 v7 M514.05,492.6 v-3.5 M514.05,278.5 v3.5 M531.01,492.6 v-3.5 M531.01,278.5 v3.5 M547.97,492.6 v-3.5 M547.97,278.5 v3.5 M564.93,492.6 v-3.5 M564.93,278.5 v3.5 M581.89,492.6 v-7 M581.89,278.5 v7 M598.85,492.6 v-3.5 M598.85,278.5 v3.5 M615.81,492.6 v-3.5 M615.81,278.5 v3.5 M632.76,492.6 v-3.5 M632.76,278.5 v3.5 M649.72,492.6 v-3.5 M649.72,278.5 v3.5 M666.68,492.6 v-7 M666.68,278.5 v7 M683.64,492.6 v-3.5 M683.64,278.5 v3.5 M412.3,449.78 h7 M700.6,449.78 h-7 M412.3,406.96 h3.5 M700.6,406.96 h-3.5 M412.3,364.14 h7 M700.6,364.14 h-7 M412.3,321.32 h3.5 M700.6,321.32 h-3.5" fill="none" stroke="#4a4a4a" stroke-width="1.3"/>
<text x="412.3" y="510.6" font-size="14" text-anchor="middle" letter-spacing="0.6">1</text>
<text x="497.09" y="510.6" font-size="14" text-anchor="middle" letter-spacing="0.6">1.5</text>
<text x="581.89" y="510.6" font-size="14" text-anchor="middle" letter-spacing="0.6">2</text>
<text x="666.68" y="510.6" font-size="14" text-anchor="middle" letter-spacing="0.6">2.5</text>
<text x="556.45" y="529.3" font-size="14.2" text-anchor="middle" textLength="116" lengthAdjust="spacingAndGlyphs">log(Temperature)</text>
<text transform="translate(402.1,449.78) rotate(-90)" font-size="14" text-anchor="middle">4</text>
<text transform="translate(402.1,364.14) rotate(-90)" font-size="14" text-anchor="middle">6</text>
<text transform="translate(402.1,278.5) rotate(-90)" font-size="14" text-anchor="middle">8</text>
<text transform="translate(373.9,385.55) rotate(-90)" font-size="14.2" text-anchor="middle" textLength="81" lengthAdjust="spacingAndGlyphs">log(Density)</text>
<text x="561.04 570.36 580.46" y="300.6" font-size="14">HC0<tspan x="589.74" y="294.85" font-size="11.5" stroke="#444" stroke-width="0.35">+</tspan><tspan x="601.45 605.35" y="300.6"> 4</tspan><tspan x="613.93" y="302" font-size="16.5">−</tspan><tspan x="625.6" y="300.6">3</tspan><tspan x="634.3" y="303.35" font-size="20" rotate="12">/</tspan><tspan x="643.2" y="300.6">3</tspan><tspan x="652.78" y="302" font-size="16.5">−</tspan><tspan x="663.76" y="300.6">2</tspan></text>
<text x="615.72 624.12 632.57 641.91" y="322" font-size="14" >1e16</text>
<text x="656.06 664.66 669.36" y="369.6" font-size="14" >2.0</text>
<clipPath id="c02"><rect x="50.05" y="557.6" width="288.35" height="214.1"/></clipPath>
<g clip-path="url(#c02)" fill="none" stroke-linejoin="round" stroke-linecap="round">
<path d="M103.32,557.58 L103.56,560.68 L103.93,563.75 L104.44,566.78 L105.08,569.78 L105.83,572.75 L106.7,575.67 L107.69,578.55 L108.78,581.38 L109.98,584.16 L111.28,586.88 L112.67,589.56 L114.15,592.17 L115.72,594.72 L117.37,597.2 L119.1,599.62 L120.9,601.98 L122.76,604.27 L124.7,606.51 L126.69,608.7 L128.73,610.85 L130.83,612.94 L132.97,615 L135.16,617.03 L137.38,619.02 L139.63,620.98 L141.91,622.91 L144.22,624.83 L146.54,626.73 L148.88,628.61 L151.23,630.49 L153.58,632.36 L155.95,634.22 L158.32,636.07 L160.7,637.91 L163.09,639.75 L165.48,641.58 L167.88,643.4 L170.29,645.21 L172.7,647.02 L175.12,648.81 L177.55,650.6 L179.98,652.39 L182.42,654.16 L184.87,655.93 L187.32,657.69 L189.77,659.44 L192.23,661.19 L194.7,662.92 L197.17,664.65 L199.64,666.37 L202.12,668.09 L204.61,669.79 L207.1,671.49 L209.59,673.18 L212.08,674.87 L214.58,676.55 L217.09,678.22 L219.6,679.88 L222.11,681.53 L224.62,683.18 L227.13,684.82 L229.65,686.45 L232.17,688.08 L234.69,689.7 L237.21,691.32 L239.73,692.94 L242.24,694.57 L244.74,696.2 L247.24,697.84 L249.73,699.48 L252.21,701.14 L254.67,702.81 L257.13,704.5 L259.56,706.21 L261.99,707.93 L264.39,709.68 L266.77,711.45 L269.13,713.25 L271.47,715.08 L273.79,716.94 L276.08,718.83 L278.34,720.76 L280.58,722.72 L282.78,724.72 L284.96,726.77 L287.1,728.86 L289.2,730.99 L291.27,733.18 L293.31,735.41 L295.3,737.7 L297.26,740.03 L299.19,742.39 L301.09,744.79 L302.98,747.21 L304.85,749.63 L306.71,752.06 L308.57,754.48 L310.43,756.89 L312.29,759.27 L314.18,761.61 L316.07,763.92 L317.99,766.17 L319.94,768.36 L321.93,770.48 L323.95,772.52" stroke="#b6b6b6" stroke-width="1.05"/>
<path d="M115.74,557.58 L116.21,560.88 L116.79,564.09 L117.49,567.21 L118.3,570.24 L119.21,573.19 L120.23,576.05 L121.35,578.84 L122.57,581.54 L123.88,584.17 L125.28,586.72 L126.78,589.2 L128.36,591.62 L130.02,593.96 L131.76,596.24 L133.58,598.46 L135.47,600.62 L137.43,602.72 L139.46,604.77 L141.55,606.76 L143.71,608.69 L145.92,610.58 L148.19,612.43 L150.51,614.23 L152.88,615.98 L155.3,617.7 L157.76,619.38 L160.26,621.02 L162.79,622.63 L165.36,624.21 L167.96,625.76 L170.59,627.28 L173.24,628.78 L175.92,630.25 L178.61,631.71 L181.32,633.15 L184.04,634.57 L186.77,635.98 L189.51,637.38 L192.25,638.77 L194.99,640.16 L197.73,641.54 L200.47,642.91 L203.21,644.28 L205.95,645.63 L208.69,646.99 L211.44,648.33 L214.18,649.66 L216.92,650.99 L219.67,652.31 L222.41,653.61 L225.16,654.91 L227.91,656.2 L230.66,657.48 L233.42,658.75 L236.17,660 L238.93,661.25 L241.69,662.48 L244.46,663.7 L247.23,664.91 L250,666.11 L252.77,667.29 L255.55,668.46 L258.33,669.62 L261.11,670.76 L263.9,671.89 L266.69,673 L269.49,674.1 L272.29,675.18 L275.1,676.25 L277.91,677.3 L280.72,678.33 L283.55,679.35 L286.37,680.35 L289.21,681.33 L292.04,682.3 L294.89,683.25 L297.74,684.17 L300.6,685.08 L303.46,685.97 L306.33,686.84 L309.2,687.69 L312.09,688.52 L314.98,689.33 L317.88,690.12 L320.78,690.89 L323.69,691.64 L326.62,692.36 L329.54,693.06 L332.48,693.74 L335.43,694.39 L338.38,695.03" stroke="#b6b6b6" stroke-width="1.05"/>
<path d="M152.33,557.63 L153.25,560.64 L154.28,563.56 L155.41,566.41 L156.65,569.17 L157.99,571.85 L159.42,574.46 L160.95,576.99 L162.57,579.45 L164.28,581.83 L166.07,584.13 L167.95,586.37 L169.9,588.54 L171.92,590.64 L174.02,592.67 L176.19,594.64 L178.42,596.54 L180.71,598.38 L183.06,600.16 L185.46,601.88 L187.92,603.54 L190.43,605.14 L192.98,606.68 L195.57,608.17 L198.21,609.61 L200.88,611 L203.58,612.33 L206.31,613.62 L209.07,614.86 L211.85,616.05 L214.65,617.2 L217.46,618.3 L220.3,619.36 L223.15,620.38 L226.01,621.36 L228.89,622.3 L231.79,623.21 L234.69,624.07 L237.61,624.91 L240.54,625.71 L243.48,626.48 L246.43,627.22 L249.38,627.94 L252.35,628.62 L255.32,629.28 L258.3,629.91 L261.29,630.53 L264.28,631.12 L267.27,631.68 L270.27,632.23 L273.27,632.77 L276.27,633.28 L279.27,633.78 L282.27,634.27 L285.28,634.74 L288.28,635.21 L291.28,635.66 L294.27,636.11 L297.27,636.55 L300.26,636.98 L303.24,637.41 L306.22,637.84 L309.19,638.26 L312.15,638.69 L315.11,639.12 L318.05,639.55 L320.99,639.98 L323.91,640.42 L326.83,640.87 L329.73,641.32 L332.62,641.79 L335.5,642.26 L338.36,642.75" stroke="#b6b6b6" stroke-width="1.05"/>
<path d="M186.24,557.62 L186.87,560.74 L187.67,563.75 L188.63,566.66 L189.74,569.46 L191,572.15 L192.4,574.75 L193.93,577.26 L195.6,579.66 L197.38,581.98 L199.27,584.2 L201.28,586.34 L203.38,588.38 L205.58,590.35 L207.87,592.23 L210.24,594.04 L212.69,595.76 L215.2,597.42 L217.78,599 L220.41,600.5 L223.09,601.94 L225.82,603.32 L228.58,604.63 L231.37,605.88 L234.19,607.07 L237.03,608.2 L239.89,609.28 L242.77,610.3 L245.67,611.27 L248.59,612.2 L251.53,613.08 L254.48,613.91 L257.45,614.71 L260.43,615.46 L263.42,616.18 L266.42,616.86 L269.44,617.51 L272.46,618.13 L275.48,618.72 L278.52,619.29 L281.55,619.83 L284.59,620.35 L287.64,620.85 L290.68,621.33 L293.72,621.8 L296.76,622.25 L299.8,622.69 L302.83,623.13 L305.85,623.56 L308.87,623.99 L311.88,624.41 L314.88,624.84 L317.87,625.26 L320.84,625.7 L323.81,626.14 L326.76,626.59 L329.69,627.05 L332.6,627.52 L335.5,628.01 L338.37,628.52" stroke="#b6b6b6" stroke-width="1.05"/>
</g>
<path d="M130,557.6 L130.56,560.74 L131.31,563.78 L132.18,566.74 L133.17,569.62 L134.27,572.42 L135.48,575.14 L136.8,577.79 L138.22,580.36 L139.73,582.86 L141.34,585.29 L143.04,587.65 L144.82,589.95 L146.69,592.17 L148.63,594.33 L150.64,596.43 L152.73,598.47 L154.88,600.45 L157.09,602.37 L159.37,604.23 L161.69,606.04 L164.07,607.79 L166.49,609.49 L168.95,611.14 L171.46,612.74 L174,614.3 L176.58,615.8 L179.19,617.26 L181.84,618.68 L184.52,620.06 L187.23,621.4 L189.97,622.69 L192.73,623.96 L195.51,625.18 L198.32,626.37 L201.15,627.53 L204,628.66 L206.86,629.76 L209.74,630.83 L212.64,631.87 L215.54,632.89 L218.45,633.89 L221.37,634.86 L224.3,635.81 L227.23,636.75 L230.17,637.67 L233.1,638.57 L236.03,639.46 L238.96,640.33 L241.89,641.2 L244.81,642.05 L247.72,642.89 L250.63,643.72 L253.54,644.55 L256.44,645.36 L259.34,646.16 L262.24,646.95 L265.14,647.73 L268.03,648.5 L270.93,649.26 L273.82,650.01 L276.72,650.75 L279.61,651.47 L282.51,652.19 L285.41,652.9 L288.31,653.6 L291.21,654.29 L294.12,654.96 L297.02,655.63 L299.94,656.29 L302.85,656.94 L305.78,657.57 L308.71,658.2 L311.64,658.82 L314.58,659.43 L317.53,660.02 L320.48,660.61 L323.44,661.19 L326.41,661.76 L329.39,662.31 L332.38,662.86 L335.38,663.4 L338.4,663.9" fill="none" stroke="#141010" stroke-width="3.8" stroke-linejoin="round" stroke-linecap="round"/>
<path d="M50.05,557.6 H338.4 V771.7 H50.05 Z M67.01,771.7 v-3.5 M67.01,557.6 v3.5 M83.97,771.7 v-3.5 M83.97,557.6 v3.5 M100.94,771.7 v-3.5 M100.94,557.6 v3.5 M117.9,771.7 v-3.5 M117.9,557.6 v3.5 M134.86,771.7 v-7 M134.86,557.6 v7 M151.82,771.7 v-3.5 M151.82,557.6 v3.5 M168.78,771.7 v-3.5 M168.78,557.6 v3.5 M185.74,771.7 v-3.5 M185.74,557.6 v3.5 M202.71,771.7 v-3.5 M202.71,557.6 v3.5 M219.67,771.7 v-7 M219.67,557.6 v7 M236.63,771.7 v-3.5 M236.63,557.6 v3.5 M253.59,771.7 v-3.5 M253.59,557.6 v3.5 M270.55,771.7 v-3.5 M270.55,557.6 v3.5 M287.51,771.7 v-3.5 M287.51,557.6 v3.5 M304.48,771.7 v-7 M304.48,557.6 v7 M321.44,771.7 v-3.5 M321.44,557.6 v3.5 M50.05,728.88 h7 M338.4,728.88 h-7 M50.05,686.06 h3.5 M338.4,686.06 h-3.5 M50.05,643.24 h7 M338.4,643.24 h-7 M50.05,600.42 h3.5 M338.4,600.42 h-3.5" fill="none" stroke="#4a4a4a" stroke-width="1.3"/>
<text x="50.05" y="789.7" font-size="14" text-anchor="middle" letter-spacing="0.6">1</text>
<text x="134.86" y="789.7" font-size="14" text-anchor="middle" letter-spacing="0.6">1.5</text>
<text x="219.67" y="789.7" font-size="14" text-anchor="middle" letter-spacing="0.6">2</text>
<text x="304.48" y="789.7" font-size="14" text-anchor="middle" letter-spacing="0.6">2.5</text>
<text x="194.22" y="808.4" font-size="14.2" text-anchor="middle" textLength="116" lengthAdjust="spacingAndGlyphs">log(Temperature)</text>
<text transform="translate(39.85,728.88) rotate(-90)" font-size="14" text-anchor="middle">4</text>
<text transform="translate(39.85,643.24) rotate(-90)" font-size="14" text-anchor="middle">6</text>
<text transform="translate(39.85,557.6) rotate(-90)" font-size="14" text-anchor="middle">8</text>
<text transform="translate(11.65,664.65) rotate(-90)" font-size="14.2" text-anchor="middle" textLength="81" lengthAdjust="spacingAndGlyphs">log(Density)</text>
<text x="216.04 225.36 235.46" y="579.7" font-size="14">HC0<tspan x="244.74" y="573.95" font-size="11.5" stroke="#444" stroke-width="0.35">+</tspan><tspan x="256.41 260.31" y="579.7"> 8</tspan><tspan x="268.93" y="581.1" font-size="16.5">−</tspan><tspan x="280.55" y="579.7">7</tspan><tspan x="289.3" y="582.45" font-size="20" rotate="12">/</tspan><tspan x="298.2" y="579.7">3</tspan><tspan x="307.78" y="581.1" font-size="16.5">−</tspan><tspan x="318.76" y="579.7">2</tspan></text>
<text x="253.27 261.67 270.12 279.46" y="601.1" font-size="14" >1e16</text>
<text x="260.47 268.86 273.17" y="667.8" font-size="14" >1.5</text>
<clipPath id="c12"><rect x="412.3" y="557.6" width="288.3" height="214.1"/></clipPath>
<g clip-path="url(#c12)" fill="none" stroke-linejoin="round" stroke-linecap="round">
<path d="M461.99,557.62 L462.38,560.76 L462.89,563.84 L463.5,566.86 L464.23,569.83 L465.05,572.73 L465.98,575.58 L467,578.38 L468.11,581.12 L469.32,583.82 L470.6,586.47 L471.97,589.07 L473.42,591.63 L474.95,594.15 L476.54,596.64 L478.2,599.08 L479.92,601.49 L481.71,603.86 L483.55,606.21 L485.44,608.52 L487.38,610.81 L489.37,613.07 L491.4,615.31 L493.47,617.53 L495.58,619.73 L497.71,621.91 L499.88,624.08 L502.06,626.23 L504.27,628.37 L506.49,630.51 L508.73,632.63 L510.98,634.75 L513.23,636.87 L515.49,638.99 L517.74,641.11 L519.99,643.23 L522.23,645.35 L524.46,647.48 L526.68,649.63 L528.87,651.78 L531.04,653.94 L533.19,656.12 L535.3,658.32 L537.39,660.53 L539.43,662.77 L541.44,665.02 L543.41,667.3 L545.35,669.6 L547.25,671.92 L549.11,674.26 L550.94,676.62 L552.73,679 L554.5,681.41 L556.22,683.83 L557.92,686.28 L559.58,688.74 L561.21,691.23 L562.8,693.74 L564.37,696.27 L565.9,698.82 L567.4,701.39 L568.87,703.98 L570.31,706.59 L571.73,709.23 L573.11,711.88 L574.46,714.56 L575.79,717.26 L577.09,719.98 L578.36,722.72 L579.59,725.48 L580.79,728.26 L581.95,731.06 L583.06,733.89 L584.12,736.73 L585.12,739.6 L586.05,742.49 L586.91,745.39 L587.69,748.32 L588.39,751.28 L589.01,754.25 L589.53,757.24 L589.95,760.26 L590.26,763.29 L590.47,766.35 L590.56,769.43 L590.53,772.53" stroke="#b6b6b6" stroke-width="1.05"/>
<path d="M472.8,557.61 L472.88,560.78 L473.13,563.88 L473.54,566.91 L474.11,569.86 L474.83,572.74 L475.69,575.56 L476.69,578.31 L477.83,581 L479.09,583.63 L480.47,586.2 L481.96,588.71 L483.56,591.17 L485.26,593.57 L487.05,595.92 L488.93,598.21 L490.89,600.47 L492.93,602.67 L495.03,604.83 L497.2,606.95 L499.42,609.03 L501.69,611.07 L504.01,613.07 L506.36,615.03 L508.74,616.97 L511.15,618.87 L513.58,620.75 L516.01,622.59 L518.46,624.41 L520.9,626.21 L523.35,627.99 L525.8,629.74 L528.24,631.48 L530.69,633.21 L533.14,634.91 L535.59,636.61 L538.04,638.3 L540.49,639.98 L542.94,641.65 L545.38,643.31 L547.83,644.98 L550.27,646.64 L552.7,648.31 L555.14,649.98 L557.57,651.65 L559.99,653.33 L562.41,655.02 L564.83,656.72 L567.24,658.43 L569.64,660.15 L572.04,661.89 L574.43,663.65 L576.81,665.44 L579.19,667.24 L581.56,669.06 L583.92,670.91 L586.27,672.79 L588.61,674.68 L590.95,676.59 L593.28,678.52 L595.6,680.47 L597.92,682.43 L600.23,684.41 L602.53,686.4 L604.83,688.4 L607.13,690.41 L609.41,692.43 L611.7,694.46 L613.98,696.49 L616.25,698.53 L618.52,700.57 L620.78,702.62 L623.05,704.66 L625.3,706.71 L627.56,708.75 L629.81,710.79 L632.06,712.83 L634.31,714.86 L636.55,716.88 L638.8,718.9 L641.04,720.9 L643.28,722.9 L645.51,724.88 L647.75,726.84 L649.99,728.8 L652.22,730.73 L654.46,732.65 L656.69,734.55 L658.93,736.43 L661.16,738.3 L663.39,740.15 L665.59,742.02 L667.77,743.9 L669.92,745.82 L672.02,747.78 L674.08,749.8 L676.08,751.89 L678.01,754.05 L679.87,756.31 L681.65,758.67 L683.34,761.16 L684.93,763.77 L686.42,766.52 L687.8,769.43 L689.06,772.5" stroke="#b6b6b6" stroke-width="1.05"/>
<path d="M509.23,557.63 L510.18,560.69 L511.25,563.65 L512.43,566.53 L513.71,569.31 L515.09,572 L516.58,574.61 L518.16,577.13 L519.83,579.57 L521.59,581.93 L523.44,584.21 L525.37,586.41 L527.38,588.54 L529.47,590.6 L531.63,592.59 L533.86,594.51 L536.15,596.37 L538.51,598.16 L540.92,599.89 L543.4,601.56 L545.92,603.17 L548.49,604.73 L551.11,606.24 L553.77,607.7 L556.47,609.1 L559.2,610.46 L561.97,611.78 L564.76,613.05 L567.58,614.29 L570.43,615.48 L573.29,616.64 L576.16,617.77 L579.05,618.87 L581.94,619.93 L584.85,620.97 L587.76,621.98 L590.68,622.96 L593.6,623.92 L596.53,624.85 L599.47,625.75 L602.41,626.64 L605.36,627.5 L608.31,628.33 L611.26,629.15 L614.23,629.94 L617.19,630.71 L620.16,631.46 L623.13,632.2 L626.11,632.91 L629.08,633.61 L632.06,634.29 L635.05,634.96 L638.03,635.61 L641.02,636.25 L644.01,636.87 L646.99,637.48 L649.98,638.07 L652.97,638.66 L655.96,639.23 L658.95,639.8 L661.94,640.35 L664.92,640.9 L667.91,641.43 L670.89,641.96 L673.88,642.49 L676.86,643.01 L679.83,643.52 L682.81,644.03 L685.78,644.53 L688.75,645.03 L691.71,645.54 L694.67,646.03 L697.63,646.53 L700.58,647.03" stroke="#b6b6b6" stroke-width="1.05"/>
<path d="M550.26,557.6 L551.18,560.71 L552.23,563.7 L553.42,566.56 L554.74,569.3 L556.18,571.92 L557.74,574.43 L559.42,576.83 L561.2,579.13 L563.09,581.32 L565.07,583.42 L567.15,585.42 L569.31,587.33 L571.56,589.15 L573.88,590.89 L576.27,592.54 L578.73,594.12 L581.25,595.62 L583.82,597.06 L586.45,598.42 L589.11,599.73 L591.82,600.97 L594.56,602.15 L597.33,603.29 L600.13,604.37 L602.96,605.4 L605.81,606.38 L608.68,607.32 L611.57,608.22 L614.49,609.07 L617.42,609.89 L620.36,610.67 L623.33,611.41 L626.3,612.12 L629.29,612.8 L632.29,613.45 L635.3,614.07 L638.31,614.66 L641.33,615.23 L644.36,615.79 L647.39,616.32 L650.41,616.83 L653.44,617.33 L656.47,617.81 L659.49,618.29 L662.51,618.75 L665.52,619.21 L668.52,619.66 L671.52,620.11 L674.5,620.55 L677.47,621 L680.42,621.45 L683.36,621.9 L686.28,622.36 L689.19,622.83 L692.07,623.3 L694.93,623.79 L697.76,624.3 L700.58,624.82" stroke="#b6b6b6" stroke-width="1.05"/>
</g>
<path d="M487.3,557.6 L487.83,560.66 L488.55,563.6 L489.39,566.48 L490.35,569.3 L491.41,572.05 L492.59,574.74 L493.86,577.37 L495.24,579.94 L496.71,582.45 L498.27,584.9 L499.92,587.3 L501.66,589.64 L503.47,591.93 L505.36,594.17 L507.31,596.35 L509.34,598.49 L511.43,600.57 L513.57,602.61 L515.78,604.6 L518.03,606.55 L520.33,608.45 L522.68,610.3 L525.07,612.12 L527.51,613.89 L529.98,615.63 L532.49,617.32 L535.04,618.98 L537.62,620.6 L540.23,622.19 L542.86,623.74 L545.53,625.26 L548.21,626.75 L550.92,628.21 L553.64,629.64 L556.38,631.04 L559.13,632.41 L561.9,633.76 L564.67,635.08 L567.45,636.38 L570.24,637.66 L573.02,638.91 L575.81,640.15 L578.6,641.37 L581.39,642.56 L584.17,643.74 L586.96,644.9 L589.76,646.04 L592.55,647.17 L595.34,648.28 L598.13,649.37 L600.93,650.45 L603.73,651.52 L606.53,652.57 L609.33,653.61 L612.13,654.63 L614.93,655.64 L617.74,656.64 L620.55,657.63 L623.36,658.61 L626.17,659.58 L628.99,660.53 L631.81,661.48 L634.63,662.42 L637.46,663.36 L640.29,664.28 L643.12,665.2 L645.95,666.12 L648.79,667.02 L651.63,667.93 L654.48,668.82 L657.33,669.72 L660.18,670.61 L663.04,671.5 L665.9,672.38 L668.76,673.27 L671.63,674.15 L674.51,675.03 L677.38,675.91 L680.27,676.8 L683.16,677.68 L686.05,678.57 L688.95,679.46 L691.85,680.35 L694.76,681.24 L697.68,682.14 L700.6,683" fill="none" stroke="#141010" stroke-width="3.8" stroke-linejoin="round" stroke-linecap="round"/>
<path d="M412.3,557.6 H700.6 V771.7 H412.3 Z M429.26,771.7 v-3.5 M429.26,557.6 v3.5 M446.22,771.7 v-3.5 M446.22,557.6 v3.5 M463.18,771.7 v-3.5 M463.18,557.6 v3.5 M480.14,771.7 v-3.5 M480.14,557.6 v3.5 M497.09,771.7 v-7 M497.09,557.6 v7 M514.05,771.7 v-3.5 M514.05,557.6 v3.5 M531.01,771.7 v-3.5 M531.01,557.6 v3.5 M547.97,771.7 v-3.5 M547.97,557.6 v3.5 M564.93,771.7 v-3.5 M564.93,557.6 v3.5 M581.89,771.7 v-7 M581.89,557.6 v7 M598.85,771.7 v-3.5 M598.85,557.6 v3.5 M615.81,771.7 v-3.5 M615.81,557.6 v3.5 M632.76,771.7 v-3.5 M632.76,557.6 v3.5 M649.72,771.7 v-3.5 M649.72,557.6 v3.5 M666.68,771.7 v-7 M666.68,557.6 v7 M683.64,771.7 v-3.5 M683.64,557.6 v3.5 M412.3,728.88 h7 M700.6,728.88 h-7 M412.3,686.06 h3.5 M700.6,686.06 h-3.5 M412.3,643.24 h7 M700.6,643.24 h-7 M412.3,600.42 h3.5 M700.6,600.42 h-3.5" fill="none" stroke="#4a4a4a" stroke-width="1.3"/>
<text x="412.3" y="789.7" font-size="14" text-anchor="middle" letter-spacing="0.6">1</text>
<text x="497.09" y="789.7" font-size="14" text-anchor="middle" letter-spacing="0.6">1.5</text>
<text x="581.89" y="789.7" font-size="14" text-anchor="middle" letter-spacing="0.6">2</text>
<text x="666.68" y="789.7" font-size="14" text-anchor="middle" letter-spacing="0.6">2.5</text>
<text x="556.45" y="808.4" font-size="14.2" text-anchor="middle" textLength="116" lengthAdjust="spacingAndGlyphs">log(Temperature)</text>
<text transform="translate(402.1,728.88) rotate(-90)" font-size="14" text-anchor="middle">4</text>
<text transform="translate(402.1,643.24) rotate(-90)" font-size="14" text-anchor="middle">6</text>
<text transform="translate(402.1,557.6) rotate(-90)" font-size="14" text-anchor="middle">8</text>
<text transform="translate(373.9,664.65) rotate(-90)" font-size="14.2" text-anchor="middle" textLength="81" lengthAdjust="spacingAndGlyphs">log(Density)</text>
<text x="577.94 587.26 597.36" y="579.7" font-size="14">HC0<tspan x="606.64" y="573.95" font-size="11.5" stroke="#444" stroke-width="0.35">+</tspan><tspan x="618.31 622.21" y="579.7"> 8</tspan><tspan x="630.83" y="581.1" font-size="16.5">−</tspan><tspan x="642.45" y="579.7">7</tspan><tspan x="651.2" y="582.45" font-size="20" rotate="12">/</tspan><tspan x="660.1" y="579.7">4</tspan><tspan x="669.68" y="581.1" font-size="16.5">−</tspan><tspan x="680.7" y="579.7">3</tspan></text>
<text x="615.42 623.82 632.27 641.61" y="601.1" font-size="14" >1e16</text>
<text x="617.86 626.46 631 640.25" y="683.1" font-size="14" >0.74</text>
</g>
</svg></body></html>
